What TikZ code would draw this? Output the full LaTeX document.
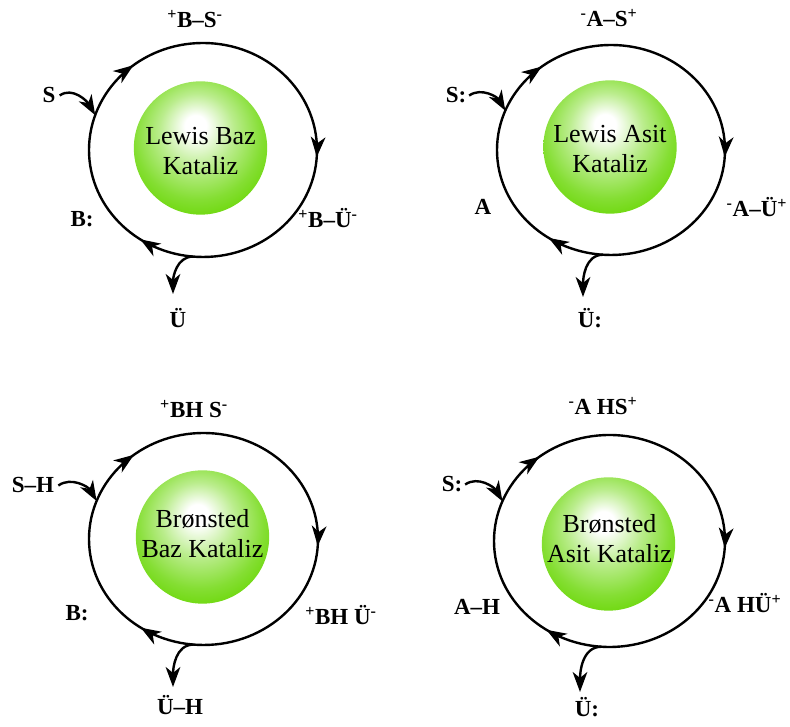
\documentclass[tikz,border=0pt]{standalone}
\usepackage{fontspec}
\setmainfont{Liberation Serif}
\usetikzlibrary{arrows.meta,decorations.markings,calc}
\definecolor{ballgreen}{RGB}{102,214,0}
\pgfdeclareradialshading{greenball}{\pgfpoint{-2bp}{9bp}}{%
 color(0bp)=(white); color(4bp)=(white); color(14bp)=(ballgreen!45!white);
 color(24bp)=(ballgreen!80!white); color(32bp)=(ballgreen); color(50bp)=(ballgreen)}
\tikzset{
 cyc/.style={line width=1.8pt, postaction={decorate}, decoration={markings,
   mark=at position 0.143 with {\arrow{Stealth[length=15pt,width=11pt,inset=4.5pt]}},
   mark=at position 0.51 with {\arrow{Stealth[length=15pt,width=11pt,inset=4.5pt]}},
   mark=at position 0.845 with {\arrow{Stealth[length=15pt,width=11pt,inset=4.5pt]}}}},
 flow/.style={line width=1.8pt, -{Stealth[length=15pt,width=11pt,inset=4.5pt]}},
 lab/.style={font=\fontsize{17.25}{20}\selectfont\bfseries, anchor=base, inner sep=1pt},
 cat/.style={font=\fontsize{19.5}{22.5}\selectfont, align=center, inner sep=0pt},
 ball/.style={circle, minimum size=100pt, inner sep=0pt, shading=greenball, draw=none}
}
\begin{document}
\begin{tikzpicture}[x=0.75pt,y=0.75pt]
\useasboundingbox (0,0) rectangle (790,727);
% ---------- cycle 1: Lewis Baz
\coordinate (c1) at (203,577);
\draw[cyc] ($(c1)+(180:114 and 107)$) arc[start angle=180,end angle=-180,x radius=114,y radius=107];
\coordinate (c1in) at ($(c1)+(161:114 and 107)$);
\coordinate (c1out) at ($(c1)+(-95:114 and 107)$);
\coordinate (tip1) at (173,433);
\node[ball] (b1) at (200.5,579) {};
\node[cat] (t1) at (200.5,575.5) {Lewis Baz\\Kataliz};
\node[lab] (p1) at (195,699) {\textsuperscript{+}B–S\textsuperscript{-}};
\node[lab] (s1) at (49,624) {S};
\node[lab] (r1) at (82,500) {B:};
\node[lab] (q1) at (328,499) {\textsuperscript{+}B–Ü\textsuperscript{-}};
\node[lab] (u1) at (178,399) {Ü};
\draw[flow] ([xshift=2pt]s1.east) to[out=35,in=120] (c1in);
\draw[flow] (c1out) to[out=180,in=90] (tip1);
% ---------- cycle 2: Lewis Asit
\coordinate (c2) at (611,577);
\draw[cyc] ($(c2)+(180:114 and 105)$) arc[start angle=180,end angle=-180,x radius=114,y radius=105];
\coordinate (c2in) at ($(c2)+(158:114 and 105)$);
\coordinate (c2out) at ($(c2)+(-94:114 and 105)$);
\coordinate (tip2) at (583,430);
\node[ball] (b2) at (610,580) {};
\node[cat] (t2) at (610,577.5) {Lewis Asit\\Kataliz};
\node[lab] (p2) at (609,700) {\textsuperscript{-}A–S\textsuperscript{+}};
\node[lab] (s2) at (456,624) {S:};
\node[lab] (r2) at (483,512) {A};
\node[lab] (q2) at (757,510) {\textsuperscript{-}A–Ü\textsuperscript{+}};
\node[lab] (u2) at (590,399) {Ü:};
\draw[flow] ([xshift=1pt]s2.east) to[out=35,in=120] (c2in);
\draw[flow] (c2out) to[out=180,in=90] (tip2);
% ---------- cycle 3: Bronsted Baz
\coordinate (c3) at (203.5,188);
\draw[cyc] ($(c3)+(180:114.5 and 106)$) arc[start angle=180,end angle=-180,x radius=114.5,y radius=106];
\coordinate (c3in) at ($(c3)+(159:114.5 and 106)$);
\coordinate (c3out) at ($(c3)+(-95:114.5 and 106)$);
\coordinate (tip3) at (173,40);
\node[ball] (b3) at (202.5,190) {};
\node[cat] (t3) at (202.5,193.5) {Brønsted\\Baz Kataliz};
\node[lab] (p3) at (194,309) {\textsuperscript{+}BH S\textsuperscript{-}};
\node[lab] (s3) at (33,234) {S–H};
\node[lab] (r3) at (77,106) {B:};
\node[lab] (q3) at (341,102) {\textsuperscript{+}BH Ü\textsuperscript{-}};
\node[lab] (u3) at (180,12) {Ü–H};
\draw[flow] ([xshift=2pt]s3.east) to[out=35,in=120] (c3in);
\draw[flow] (c3out) to[out=180,in=90] (tip3);
% ---------- cycle 4: Bronsted Asit
\coordinate (c4) at (609.5,186);
\draw[cyc] ($(c4)+(180:115.5 and 106)$) arc[start angle=180,end angle=-180,x radius=115.5,y radius=106];
\coordinate (c4in) at ($(c4)+(158:115.5 and 106)$);
\coordinate (c4out) at ($(c4)+(-94:115.5 and 106)$);
\coordinate (tip4) at (580,35);
\node[ball] (b4) at (608.5,183) {};
\node[cat] (t4) at (609.5,188.5) {Brønsted\\Asit Kataliz};
\node[lab] (p4) at (603,312) {\textsuperscript{-}A HS\textsuperscript{+}};
\node[lab] (s4) at (452,235) {S:};
\node[lab] (r4) at (477,112) {A–H};
\node[lab] (q4) at (745,114) {\textsuperscript{-}A HÜ\textsuperscript{+}};
\node[lab] (u4) at (587,10) {Ü:};
\draw[flow] ([xshift=1pt]s4.east) to[out=35,in=120] (c4in);
\draw[flow] (c4out) to[out=180,in=90] (tip4);
\end{tikzpicture}
\end{document}
